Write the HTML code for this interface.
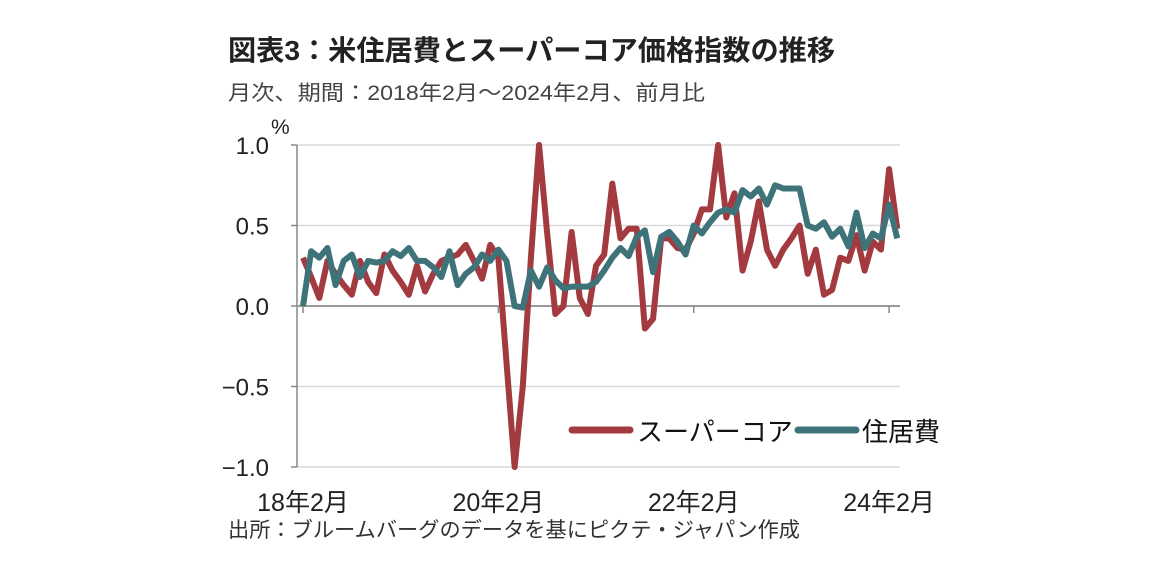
<!DOCTYPE html>
<html><head><meta charset="utf-8"><style>
body{margin:0;background:#fff;width:1152px;height:580px;overflow:hidden;font-family:"Liberation Sans","Noto Sans CJK JP",sans-serif;}
</style></head><body>
<svg width="1152" height="580" font-family="Liberation Sans, Noto Sans CJK JP, sans-serif">
<text x="228" y="60" font-size="28" font-weight="bold" fill="#222" textLength="607" lengthAdjust="spacingAndGlyphs">図表3：米住居費とスーパーコア価格指数の推移</text>
<text x="228" y="100" font-size="21" fill="#444" textLength="477" lengthAdjust="spacingAndGlyphs">月次、期間：2018年2月～2024年2月、前月比</text>
<text x="271" y="134" font-size="21" fill="#222">%</text>
<g id="grid"></g><g id="lines"></g>
<g>
<line x1="572" y1="430" x2="630" y2="430" stroke="#a23a40" stroke-width="7" stroke-linecap="round"/>
<text x="637" y="441" font-size="26" fill="#111">スーパーコア</text>
<line x1="798" y1="430" x2="856" y2="430" stroke="#3f737a" stroke-width="7" stroke-linecap="round"/>
<text x="862" y="441" font-size="26" fill="#111">住居費</text>
</g>
<text x="228" y="537" font-size="21" fill="#333" textLength="572" lengthAdjust="spacingAndGlyphs">出所：ブルームバーグのデータを基にピクテ・ジャパン作成</text>
</svg>
<script>
const yTicks=[1.0,0.5,0.0,-0.5,-1.0];
const yTickLabels=["1.0","0.5","0.0","−0.5","−1.0"];
const xTickIdx=[0,24,48,72];
const xTickLabels=["18年2月","20年2月","22年2月","24年2月"];
const superCore=[0.30,0.18,0.05,0.28,0.20,0.13,0.07,0.28,0.15,0.08,0.32,0.22,0.15,0.07,0.25,0.09,0.20,0.28,0.30,0.32,0.38,0.28,0.17,0.38,0.30,-0.35,-1.0,-0.5,0.3,1.0,0.45,-0.05,0.0,0.46,0.05,-0.05,0.25,0.32,0.76,0.42,0.48,0.48,-0.14,-0.08,0.42,0.42,0.36,0.35,0.45,0.6,0.6,1.0,0.55,0.7,0.22,0.4,0.65,0.35,0.25,0.35,0.42,0.5,0.2,0.35,0.07,0.1,0.3,0.28,0.44,0.22,0.4,0.35,0.85,0.48];
const housing=[0.0,0.34,0.30,0.36,0.13,0.28,0.32,0.18,0.28,0.27,0.28,0.34,0.31,0.36,0.28,0.28,0.24,0.18,0.34,0.13,0.20,0.24,0.32,0.28,0.35,0.28,0.0,-0.01,0.22,0.12,0.24,0.16,0.11,0.12,0.12,0.12,0.15,0.22,0.3,0.36,0.31,0.43,0.47,0.21,0.43,0.46,0.40,0.32,0.5,0.45,0.52,0.58,0.6,0.58,0.72,0.68,0.73,0.63,0.75,0.73,0.73,0.73,0.5,0.48,0.52,0.43,0.48,0.37,0.58,0.36,0.45,0.42,0.63,0.42];
const NS="http://www.w3.org/2000/svg";
const X0=303,DX=8.14,Y0=306,YS=161,AX=297;
const xs=i=>X0+i*DX, ys=v=>Y0-v*YS;
const grid=document.getElementById('grid'), lines=document.getElementById('lines');
function mk(tag,attrs,parent){const e=document.createElementNS(NS,tag);for(const k in attrs)e.setAttribute(k,attrs[k]);parent.appendChild(e);return e;}
yTicks.forEach((v,k)=>{
  if(v!==0){const g=mk('line',{x1:AX,x2:900,y1:ys(v),y2:ys(v),stroke:'#d9d9d9','stroke-width':1.5},grid);
  
  }
  const t=mk('line',{x1:AX-6,x2:AX,y1:ys(v),y2:ys(v),stroke:'#888','stroke-width':1.5},grid);
  
  
  const l=mk('text',{x:269,y:ys(v)+9,'font-size':24,'text-anchor':'end',fill:'#222'},grid);
  l.textContent=yTickLabels[k];
  
  
});
const ya=mk('line',{x1:AX,x2:AX,y1:ys(1),y2:ys(-1),stroke:'#888','stroke-width':1.5},grid);


const xa=mk('line',{x1:AX,x2:900,y1:Y0,y2:Y0,stroke:'#999','stroke-width':2},grid);


xTickIdx.forEach((i,k)=>{
  const t=mk('line',{x1:xs(i),x2:xs(i),y1:Y0,y2:Y0+7,stroke:'#888','stroke-width':1.5},grid);
  
  
  const l=mk('text',{x:xs(i),y:511,'font-size':25,'text-anchor':'middle',fill:'#222'},grid);
  l.textContent=xTickLabels[k];
  
  
});
function series(arr,color,name){
  const p=mk('polyline',{points:arr.map((v,i)=>xs(i)+','+ys(v)).join(' '),fill:'none',stroke:color,'stroke-width':6,'stroke-linejoin':'round'},lines);
  
  
}
series(superCore,'#a23a40','supercore-line');
series(housing,'#3f737a','housing-line');
</script>
</body></html>
